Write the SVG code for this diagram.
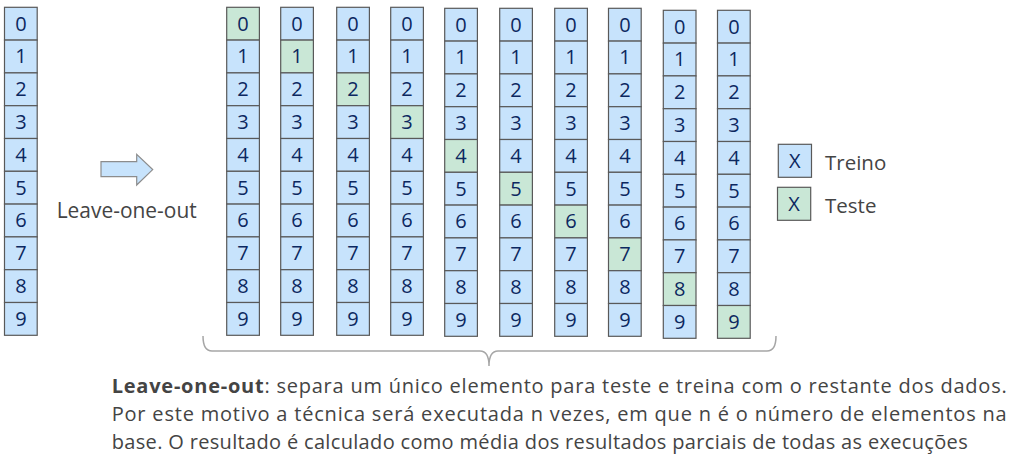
<svg xmlns="http://www.w3.org/2000/svg" width="1016" height="472" viewBox="0 0 1016 472">
<style>
.b{fill:#C7E3FC;stroke:#595959;stroke-width:1.2}
.g{fill:#C9E7D6;stroke:#595959;stroke-width:1.2}
.d{font-family:"Open Sans",sans-serif;font-size:20px;fill:#0c2860;text-anchor:middle}
.t{font-family:"Open Sans",sans-serif;fill:#444}
.br{fill:none;stroke:#a6a6a6;stroke-width:1.5}
.ar{fill:#C7E3FC;stroke:#8c8c8c;stroke-width:1.2}
</style>
<rect width="1016" height="472" fill="#fff"/>

<g id="data" transform="translate(4.5,7.3)">
<rect class="b" x="0" y="0" width="32.7" height="32.8"/>
<rect class="b" x="0" y="32.8" width="32.7" height="32.8"/>
<rect class="b" x="0" y="65.6" width="32.7" height="32.8"/>
<rect class="b" x="0" y="98.4" width="32.7" height="32.8"/>
<rect class="b" x="0" y="131.2" width="32.7" height="32.8"/>
<rect class="b" x="0" y="164" width="32.7" height="32.8"/>
<rect class="b" x="0" y="196.8" width="32.7" height="32.8"/>
<rect class="b" x="0" y="229.6" width="32.7" height="32.8"/>
<rect class="b" x="0" y="262.4" width="32.7" height="32.8"/>
<rect class="b" x="0" y="295.2" width="32.7" height="32.8"/>
<text class="d" x="16.35" y="23.4">0</text><text class="d" x="16.35" y="56.2">1</text><text class="d" x="16.35" y="89">2</text><text class="d" x="16.35" y="121.8">3</text><text class="d" x="16.35" y="154.6">4</text><text class="d" x="16.35" y="187.4">5</text><text class="d" x="16.35" y="220.2">6</text><text class="d" x="16.35" y="253">7</text><text class="d" x="16.35" y="285.8">8</text><text class="d" x="16.35" y="318.6">9</text>
</g>

<g id="fold1" transform="translate(226.7,7.3)">
<rect class="g" x="0" y="0" width="32.7" height="32.8"/>
<rect class="b" x="0" y="32.8" width="32.7" height="32.8"/>
<rect class="b" x="0" y="65.6" width="32.7" height="32.8"/>
<rect class="b" x="0" y="98.4" width="32.7" height="32.8"/>
<rect class="b" x="0" y="131.2" width="32.7" height="32.8"/>
<rect class="b" x="0" y="164" width="32.7" height="32.8"/>
<rect class="b" x="0" y="196.8" width="32.7" height="32.8"/>
<rect class="b" x="0" y="229.6" width="32.7" height="32.8"/>
<rect class="b" x="0" y="262.4" width="32.7" height="32.8"/>
<rect class="b" x="0" y="295.2" width="32.7" height="32.8"/>
<text class="d" x="16.35" y="23.4">0</text><text class="d" x="16.35" y="56.2">1</text><text class="d" x="16.35" y="89">2</text><text class="d" x="16.35" y="121.8">3</text><text class="d" x="16.35" y="154.6">4</text><text class="d" x="16.35" y="187.4">5</text><text class="d" x="16.35" y="220.2">6</text><text class="d" x="16.35" y="253">7</text><text class="d" x="16.35" y="285.8">8</text><text class="d" x="16.35" y="318.6">9</text>
</g>

<g id="fold2" transform="translate(280.7,7.3)">
<rect class="b" x="0" y="0" width="32.7" height="32.8"/>
<rect class="g" x="0" y="32.8" width="32.7" height="32.8"/>
<rect class="b" x="0" y="65.6" width="32.7" height="32.8"/>
<rect class="b" x="0" y="98.4" width="32.7" height="32.8"/>
<rect class="b" x="0" y="131.2" width="32.7" height="32.8"/>
<rect class="b" x="0" y="164" width="32.7" height="32.8"/>
<rect class="b" x="0" y="196.8" width="32.7" height="32.8"/>
<rect class="b" x="0" y="229.6" width="32.7" height="32.8"/>
<rect class="b" x="0" y="262.4" width="32.7" height="32.8"/>
<rect class="b" x="0" y="295.2" width="32.7" height="32.8"/>
<text class="d" x="16.35" y="23.4">0</text><text class="d" x="16.35" y="56.2">1</text><text class="d" x="16.35" y="89">2</text><text class="d" x="16.35" y="121.8">3</text><text class="d" x="16.35" y="154.6">4</text><text class="d" x="16.35" y="187.4">5</text><text class="d" x="16.35" y="220.2">6</text><text class="d" x="16.35" y="253">7</text><text class="d" x="16.35" y="285.8">8</text><text class="d" x="16.35" y="318.6">9</text>
</g>

<g id="fold3" transform="translate(336.7,7.3)">
<rect class="b" x="0" y="0" width="32.7" height="32.8"/>
<rect class="b" x="0" y="32.8" width="32.7" height="32.8"/>
<rect class="g" x="0" y="65.6" width="32.7" height="32.8"/>
<rect class="b" x="0" y="98.4" width="32.7" height="32.8"/>
<rect class="b" x="0" y="131.2" width="32.7" height="32.8"/>
<rect class="b" x="0" y="164" width="32.7" height="32.8"/>
<rect class="b" x="0" y="196.8" width="32.7" height="32.8"/>
<rect class="b" x="0" y="229.6" width="32.7" height="32.8"/>
<rect class="b" x="0" y="262.4" width="32.7" height="32.8"/>
<rect class="b" x="0" y="295.2" width="32.7" height="32.8"/>
<text class="d" x="16.35" y="23.4">0</text><text class="d" x="16.35" y="56.2">1</text><text class="d" x="16.35" y="89">2</text><text class="d" x="16.35" y="121.8">3</text><text class="d" x="16.35" y="154.6">4</text><text class="d" x="16.35" y="187.4">5</text><text class="d" x="16.35" y="220.2">6</text><text class="d" x="16.35" y="253">7</text><text class="d" x="16.35" y="285.8">8</text><text class="d" x="16.35" y="318.6">9</text>
</g>

<g id="fold4" transform="translate(390.7,7.3)">
<rect class="b" x="0" y="0" width="32.7" height="32.8"/>
<rect class="b" x="0" y="32.8" width="32.7" height="32.8"/>
<rect class="b" x="0" y="65.6" width="32.7" height="32.8"/>
<rect class="g" x="0" y="98.4" width="32.7" height="32.8"/>
<rect class="b" x="0" y="131.2" width="32.7" height="32.8"/>
<rect class="b" x="0" y="164" width="32.7" height="32.8"/>
<rect class="b" x="0" y="196.8" width="32.7" height="32.8"/>
<rect class="b" x="0" y="229.6" width="32.7" height="32.8"/>
<rect class="b" x="0" y="262.4" width="32.7" height="32.8"/>
<rect class="b" x="0" y="295.2" width="32.7" height="32.8"/>
<text class="d" x="16.35" y="23.4">0</text><text class="d" x="16.35" y="56.2">1</text><text class="d" x="16.35" y="89">2</text><text class="d" x="16.35" y="121.8">3</text><text class="d" x="16.35" y="154.6">4</text><text class="d" x="16.35" y="187.4">5</text><text class="d" x="16.35" y="220.2">6</text><text class="d" x="16.35" y="253">7</text><text class="d" x="16.35" y="285.8">8</text><text class="d" x="16.35" y="318.6">9</text>
</g>

<g id="fold5" transform="translate(444.7,8.3)">
<rect class="b" x="0" y="0" width="32.7" height="32.8"/>
<rect class="b" x="0" y="32.8" width="32.7" height="32.8"/>
<rect class="b" x="0" y="65.6" width="32.7" height="32.8"/>
<rect class="b" x="0" y="98.4" width="32.7" height="32.8"/>
<rect class="g" x="0" y="131.2" width="32.7" height="32.8"/>
<rect class="b" x="0" y="164" width="32.7" height="32.8"/>
<rect class="b" x="0" y="196.8" width="32.7" height="32.8"/>
<rect class="b" x="0" y="229.6" width="32.7" height="32.8"/>
<rect class="b" x="0" y="262.4" width="32.7" height="32.8"/>
<rect class="b" x="0" y="295.2" width="32.7" height="32.8"/>
<text class="d" x="16.35" y="23.4">0</text><text class="d" x="16.35" y="56.2">1</text><text class="d" x="16.35" y="89">2</text><text class="d" x="16.35" y="121.8">3</text><text class="d" x="16.35" y="154.6">4</text><text class="d" x="16.35" y="187.4">5</text><text class="d" x="16.35" y="220.2">6</text><text class="d" x="16.35" y="253">7</text><text class="d" x="16.35" y="285.8">8</text><text class="d" x="16.35" y="318.6">9</text>
</g>

<g id="fold6" transform="translate(499.7,8.3)">
<rect class="b" x="0" y="0" width="32.7" height="32.8"/>
<rect class="b" x="0" y="32.8" width="32.7" height="32.8"/>
<rect class="b" x="0" y="65.6" width="32.7" height="32.8"/>
<rect class="b" x="0" y="98.4" width="32.7" height="32.8"/>
<rect class="b" x="0" y="131.2" width="32.7" height="32.8"/>
<rect class="g" x="0" y="164" width="32.7" height="32.8"/>
<rect class="b" x="0" y="196.8" width="32.7" height="32.8"/>
<rect class="b" x="0" y="229.6" width="32.7" height="32.8"/>
<rect class="b" x="0" y="262.4" width="32.7" height="32.8"/>
<rect class="b" x="0" y="295.2" width="32.7" height="32.8"/>
<text class="d" x="16.35" y="23.4">0</text><text class="d" x="16.35" y="56.2">1</text><text class="d" x="16.35" y="89">2</text><text class="d" x="16.35" y="121.8">3</text><text class="d" x="16.35" y="154.6">4</text><text class="d" x="16.35" y="187.4">5</text><text class="d" x="16.35" y="220.2">6</text><text class="d" x="16.35" y="253">7</text><text class="d" x="16.35" y="285.8">8</text><text class="d" x="16.35" y="318.6">9</text>
</g>

<g id="fold7" transform="translate(554.7,8.3)">
<rect class="b" x="0" y="0" width="32.7" height="32.8"/>
<rect class="b" x="0" y="32.8" width="32.7" height="32.8"/>
<rect class="b" x="0" y="65.6" width="32.7" height="32.8"/>
<rect class="b" x="0" y="98.4" width="32.7" height="32.8"/>
<rect class="b" x="0" y="131.2" width="32.7" height="32.8"/>
<rect class="b" x="0" y="164" width="32.7" height="32.8"/>
<rect class="g" x="0" y="196.8" width="32.7" height="32.8"/>
<rect class="b" x="0" y="229.6" width="32.7" height="32.8"/>
<rect class="b" x="0" y="262.4" width="32.7" height="32.8"/>
<rect class="b" x="0" y="295.2" width="32.7" height="32.8"/>
<text class="d" x="16.35" y="23.4">0</text><text class="d" x="16.35" y="56.2">1</text><text class="d" x="16.35" y="89">2</text><text class="d" x="16.35" y="121.8">3</text><text class="d" x="16.35" y="154.6">4</text><text class="d" x="16.35" y="187.4">5</text><text class="d" x="16.35" y="220.2">6</text><text class="d" x="16.35" y="253">7</text><text class="d" x="16.35" y="285.8">8</text><text class="d" x="16.35" y="318.6">9</text>
</g>

<g id="fold8" transform="translate(608.5,8.3)">
<rect class="b" x="0" y="0" width="32.7" height="32.8"/>
<rect class="b" x="0" y="32.8" width="32.7" height="32.8"/>
<rect class="b" x="0" y="65.6" width="32.7" height="32.8"/>
<rect class="b" x="0" y="98.4" width="32.7" height="32.8"/>
<rect class="b" x="0" y="131.2" width="32.7" height="32.8"/>
<rect class="b" x="0" y="164" width="32.7" height="32.8"/>
<rect class="b" x="0" y="196.8" width="32.7" height="32.8"/>
<rect class="g" x="0" y="229.6" width="32.7" height="32.8"/>
<rect class="b" x="0" y="262.4" width="32.7" height="32.8"/>
<rect class="b" x="0" y="295.2" width="32.7" height="32.8"/>
<text class="d" x="16.35" y="23.4">0</text><text class="d" x="16.35" y="56.2">1</text><text class="d" x="16.35" y="89">2</text><text class="d" x="16.35" y="121.8">3</text><text class="d" x="16.35" y="154.6">4</text><text class="d" x="16.35" y="187.4">5</text><text class="d" x="16.35" y="220.2">6</text><text class="d" x="16.35" y="253">7</text><text class="d" x="16.35" y="285.8">8</text><text class="d" x="16.35" y="318.6">9</text>
</g>

<g id="fold9" transform="translate(663.3,10.3)">
<rect class="b" x="0" y="0" width="32.7" height="32.8"/>
<rect class="b" x="0" y="32.8" width="32.7" height="32.8"/>
<rect class="b" x="0" y="65.6" width="32.7" height="32.8"/>
<rect class="b" x="0" y="98.4" width="32.7" height="32.8"/>
<rect class="b" x="0" y="131.2" width="32.7" height="32.8"/>
<rect class="b" x="0" y="164" width="32.7" height="32.8"/>
<rect class="b" x="0" y="196.8" width="32.7" height="32.8"/>
<rect class="b" x="0" y="229.6" width="32.7" height="32.8"/>
<rect class="g" x="0" y="262.4" width="32.7" height="32.8"/>
<rect class="b" x="0" y="295.2" width="32.7" height="32.8"/>
<text class="d" x="16.35" y="23.4">0</text><text class="d" x="16.35" y="56.2">1</text><text class="d" x="16.35" y="89">2</text><text class="d" x="16.35" y="121.8">3</text><text class="d" x="16.35" y="154.6">4</text><text class="d" x="16.35" y="187.4">5</text><text class="d" x="16.35" y="220.2">6</text><text class="d" x="16.35" y="253">7</text><text class="d" x="16.35" y="285.8">8</text><text class="d" x="16.35" y="318.6">9</text>
</g>

<g id="fold10" transform="translate(717.5,10.3)">
<rect class="b" x="0" y="0" width="32.7" height="32.8"/>
<rect class="b" x="0" y="32.8" width="32.7" height="32.8"/>
<rect class="b" x="0" y="65.6" width="32.7" height="32.8"/>
<rect class="b" x="0" y="98.4" width="32.7" height="32.8"/>
<rect class="b" x="0" y="131.2" width="32.7" height="32.8"/>
<rect class="b" x="0" y="164" width="32.7" height="32.8"/>
<rect class="b" x="0" y="196.8" width="32.7" height="32.8"/>
<rect class="b" x="0" y="229.6" width="32.7" height="32.8"/>
<rect class="b" x="0" y="262.4" width="32.7" height="32.8"/>
<rect class="g" x="0" y="295.2" width="32.7" height="32.8"/>
<text class="d" x="16.35" y="23.4">0</text><text class="d" x="16.35" y="56.2">1</text><text class="d" x="16.35" y="89">2</text><text class="d" x="16.35" y="121.8">3</text><text class="d" x="16.35" y="154.6">4</text><text class="d" x="16.35" y="187.4">5</text><text class="d" x="16.35" y="220.2">6</text><text class="d" x="16.35" y="253">7</text><text class="d" x="16.35" y="285.8">8</text><text class="d" x="16.35" y="318.6">9</text>
</g>

<g id="connectors">
<polygon class="ar" points="101,161.7 136.7,161.7 136.7,154.3 152.7,169.6 136.7,185 136.7,176.7 101,176.7"/>
<path class="br" d="M203,336 Q203,351 212,351 L480,351 Q489,351 489,366 Q489,351 498,351 L767,351 Q776,351 776,336"/>
</g>

<g id="method-label">
<text class="t" x="56.7" y="218" font-size="21" textLength="140" lengthAdjust="spacingAndGlyphs">Leave-one-out</text>
</g>

<g id="legend-treino">
<rect class="b" x="778.3" y="144.3" width="33.2" height="33"/>
<text class="d" x="794.9" y="168">X</text>
<text class="t" x="825" y="170" font-size="20.5">Treino</text>
</g>
<g id="legend-teste">
<rect class="g" x="777.5" y="187.3" width="33.2" height="33"/>
<text class="d" x="794.1" y="211">X</text>
<text class="t" x="825" y="213.3" font-size="20.5">Teste</text>
</g>

<g id="description" class="t" font-size="20">
<text x="111.7" y="392.6" textLength="895" lengthAdjust="spacing"><tspan font-weight="bold">Leave-one-out</tspan>: separa um único elemento para teste e treina com o restante dos dados.</text>
<text x="111.7" y="421" textLength="895" lengthAdjust="spacing">Por este motivo a técnica será executada n vezes, em que n é o número de elementos na</text>
<text x="111.7" y="449" textLength="856" lengthAdjust="spacing">base. O resultado é calculado como média dos resultados parciais de todas as execuções</text>
</g>
</svg>
